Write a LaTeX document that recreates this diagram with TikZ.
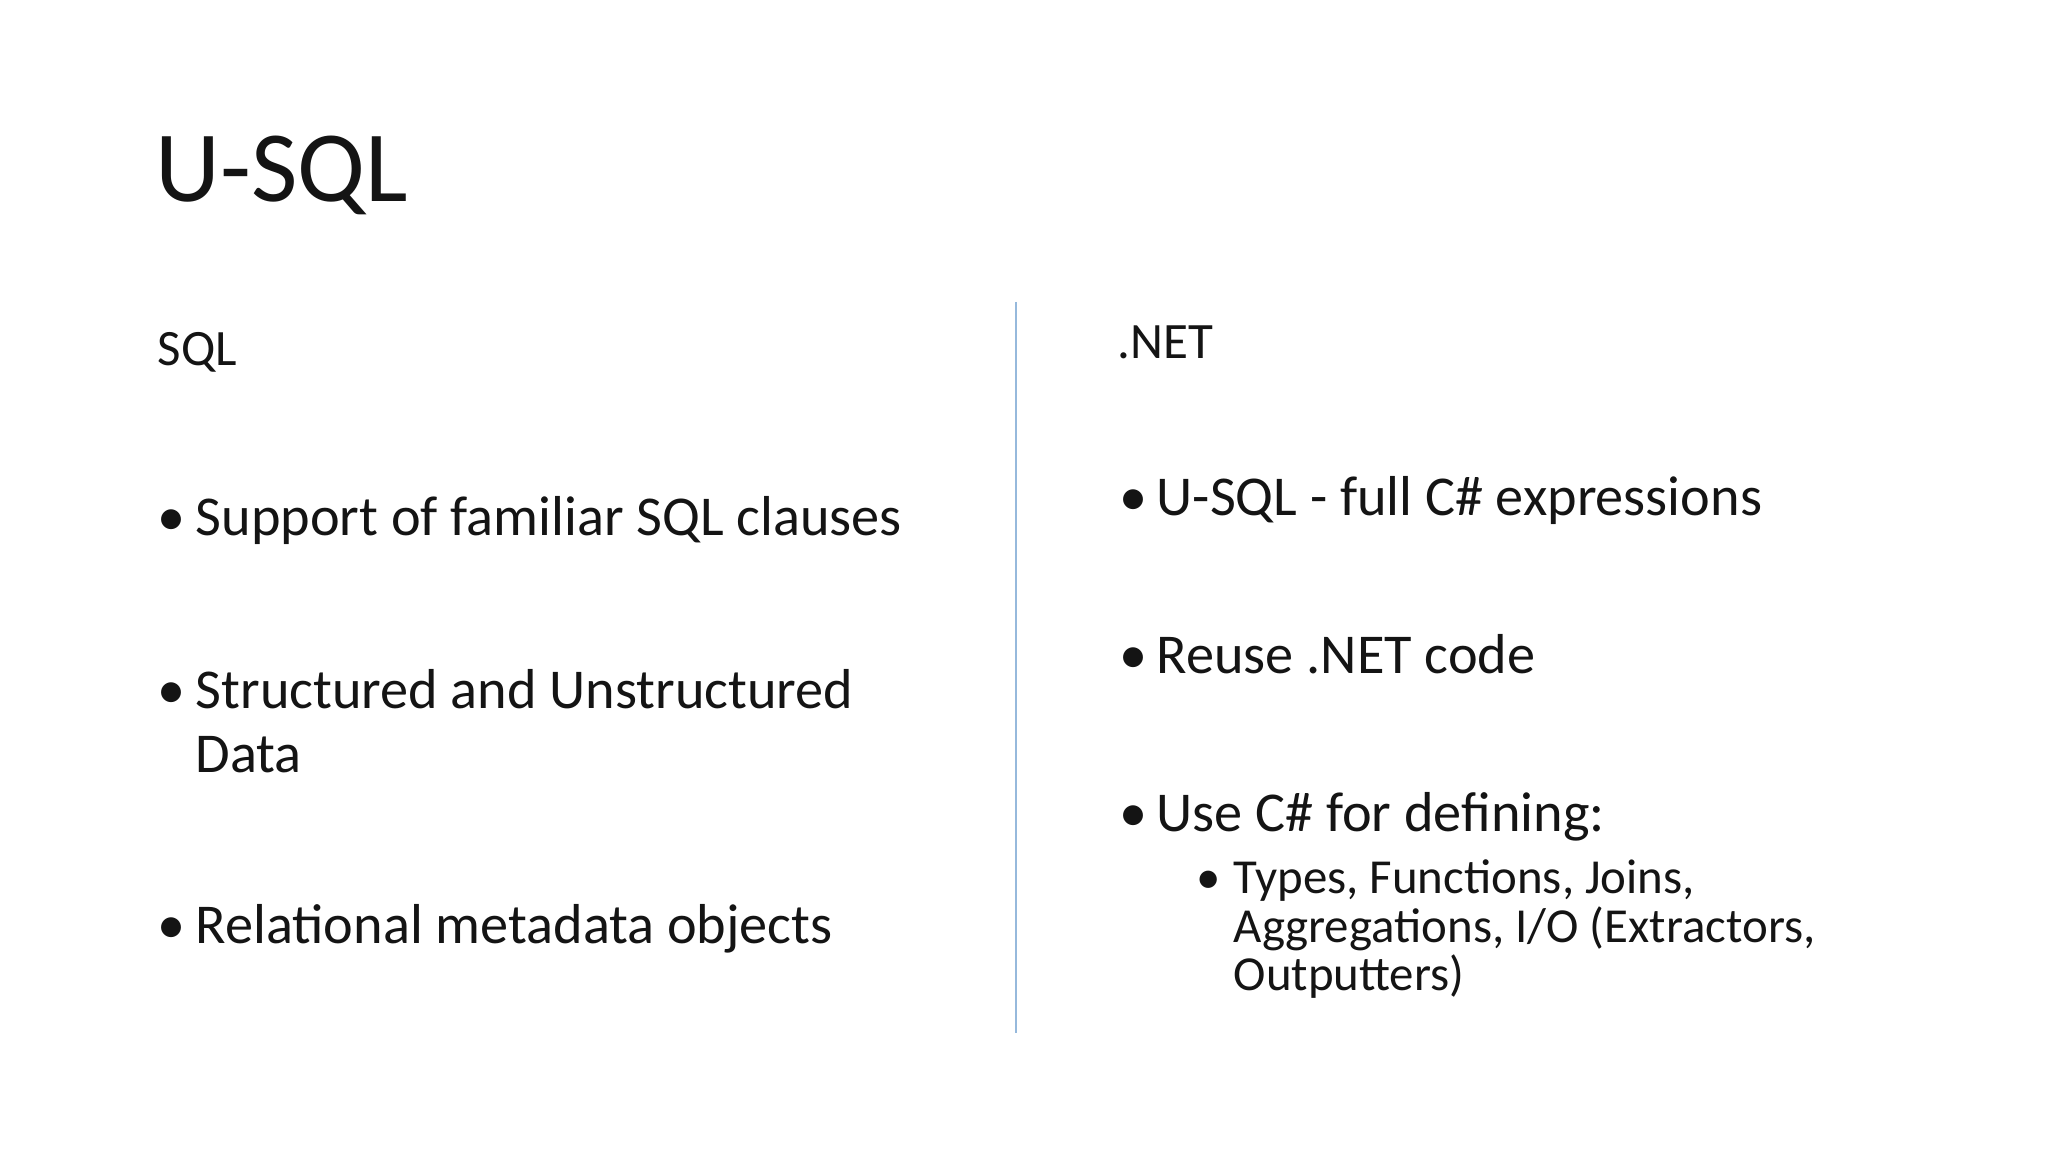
\documentclass[tikz,border=0pt]{standalone}
\usepackage{fontspec}
\setmainfont{Carlito}
\definecolor{txt}{RGB}{20,20,20}
\definecolor{divc}{RGB}{150,185,220}
\tikzset{
 t/.style={anchor=base west,inner sep=0pt,text=txt},
 big/.style={t,font=\fontsize{16}{19}\selectfont},
 small/.style={t,font=\fontsize{13.9}{16}\selectfont},
}
\begin{document}
\begin{tikzpicture}[x=0.01cm,y=-0.01cm]
\useasboundingbox[fill=white] (0,0) rectangle (2048,1152);
\node[t,font=\fontsize{28.7}{32}\selectfont] (title) at (155,202) {U-SQL};
\node[t,font=\fontsize{14.5}{17}\selectfont] (sql) at (157,366) {SQL};
\node[big] (b1) at (157,535) {•};
\node[big] (l1) at (195,535) {Support of familiar SQL clauses};
\node[big] (b2) at (157,708) {•};
\node[big] (l2) at (195,708) {Structured and Unstructured};
\node[big] (l2b) at (195,772) {Data};
\node[big] (b3) at (157,943) {•};
\node[big] (l3) at (195,943) {Relational metadata objects};
\coordinate (d1) at (1016,302);
\coordinate (d2) at (1016,1033);
\draw[divc,line width=0.8pt] (d1) -- (d2);
\node[t,font=\fontsize{14.5}{17}\selectfont] (net) at (1117,359) {.NET};
\node[big] (r1b) at (1119,516) {•};
\node[big] (r1) at (1156,516) {U-SQL - full C\# expressions};
\node[big] (r2b) at (1119,673) {•};
\node[big] (r2) at (1156,673) {Reuse .NET code};
\node[big] (r3b) at (1119,831) {•};
\node[big] (r3) at (1156,831) {Use C\# for defining:};
\node[small] (s1b) at (1196,893) {•};
\node[small] (s1) at (1233,893) {Types, Functions, Joins,};
\node[small] (s2) at (1233,942) {Aggregations, I/O (Extractors,};
\node[small] (s3) at (1233,990) {Outputters)};
\end{tikzpicture}
\end{document}
